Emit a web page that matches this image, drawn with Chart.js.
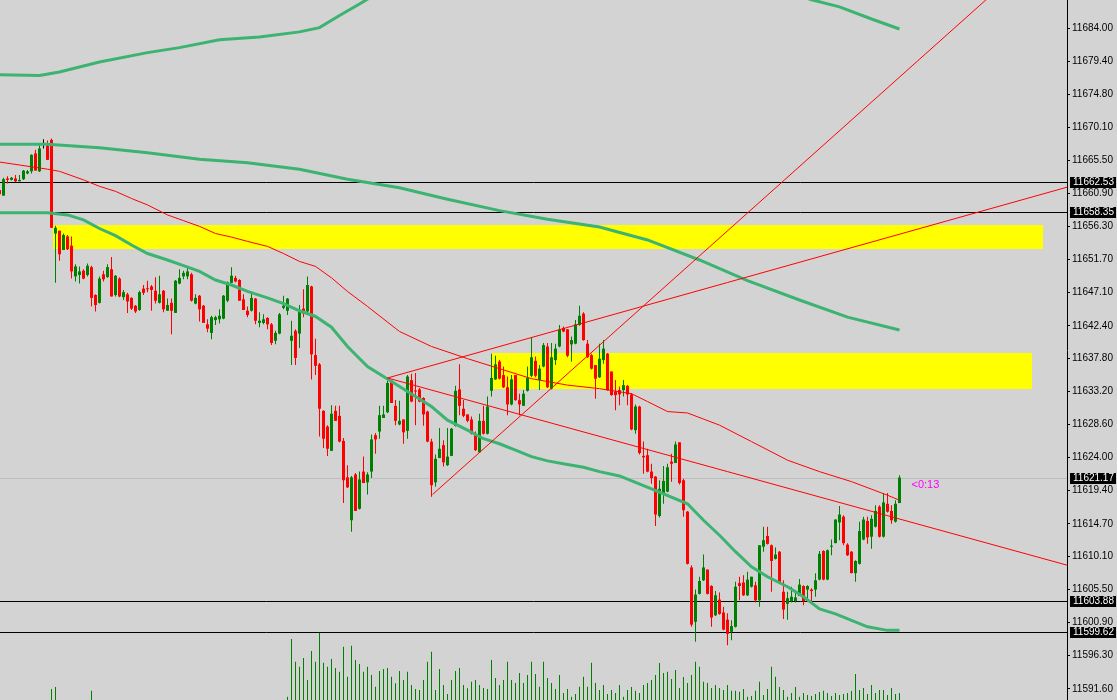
<!DOCTYPE html>
<html>
<head>
<meta charset="utf-8">
<script src="https://cdn.jsdelivr.net/npm/chart.js@4/dist/chart.umd.min.js"></script>
<style>
  html, body { margin: 0; padding: 0; background: #d3d3d3; }
  canvas { display: block; }
</style>
</head>
<body>
<canvas id="grafico" width="1117" height="700"></canvas>
<script>
// candles, index 0 = first bar on screen
const opens = [
  11661.4,11660.6,11663.0,11662.8,11663.0,11662.6,11662.9,11663.7,11664.0,11666.5,
  11664.0,11667.7,11667.6,11668.4,11655.3,11655.7,11653.0,11654.9,11653.6,11649.3,
  11649.5,11650.1,11649.5,11650.6,11646.7,11645.6,11649.6,11649.2,11650.3,11646.7,
  11649.0,11646.4,11646.8,11646.3,11645.2,11644.6,11647.6,11647.6,11647.9,11647.3,
  11645.6,11647.3,11644.5,11645.6,11644.2,11648.3,11649.3,11649.3,11649.6,11645.5,
  11646.6,11645.2,11642.6,11641.4,11643.2,11643.3,11643.4,11645.9,11648.4,11649.1,
  11648.8,11646.1,11644.5,11644.5,11646.2,11642.8,11642.8,11643.5,11642.6,11640.3,
  11641.3,11644.9,11644.5,11640.3,11641.7,11641.3,11644.8,11644.4,11647.9,11638.3,
  11637.0,11630.5,11628.3,11624.9,11630.5,11629.8,11626.3,11621.2,11615.2,11621.6,
  11616.8,11622.0,11620.5,11622.0,11627.1,11627.6,11629.5,11630.3,11634.7,11631.2,
  11628.6,11629.3,11627.7,11634.8,11633.3,11633.5,11632.3,11630.4,11626.2,11620.5,
  11623.9,11625.7,11622.9,11624.2,11628.4,11633.5,11630.8,11630.0,11629.3,11627.1,
  11624.7,11629.1,11627.3,11633.3,11634.9,11637.4,11635.5,11633.8,11631.4,11635.5,
  11632.0,11631.2,11633.3,11635.4,11637.5,11634.8,11636.7,11639.5,11633.6,11637.6,
  11639.5,11642.1,11641.9,11639.8,11639.9,11642.5,11644.1,11639.9,11638.3,11636.9,
  11635.2,11637.6,11638.5,11636.0,11633.2,11633.4,11633.4,11634.0,11632.8,11627.8,
  11631.1,11624.2,11624.3,11622.0,11621.3,11615.8,11618.9,11619.2,11623.4,11623.2,
  11626.1,11620.8,11616.4,11608.6,11601.0,11604.9,11606.8,11608.3,11606.0,11601.9,
  11604.1,11602.3,11601.3,11599.6,11600.3,11606.4,11606.5,11604.7,11605.9,11606.1,
  11604.0,11611.5,11613.0,11611.7,11609.8,11610.8,11605.2,11603.5,11603.9,11603.9,
  11604.6,11606.0,11605.5,11605.5,11605.5,11606.9,11610.9,11606.9,11611.5,11612.0,
  11614.9,11615.7,11611.8,11610.8,11607.8,11609.1,11612.5,11615.1,11612.9,11614.3,
  11617.1,11612.9,11617.5,11616.5,11615.0,11617.6
];
const highs = [
  11661.7,11663.1,11663.3,11663.2,11663.5,11663.5,11664.2,11664.2,11666.4,11667.0,
  11667.7,11668.5,11668.3,11668.6,11656.4,11655.7,11655.3,11655.1,11654.9,11651.0,
  11650.7,11650.3,11651.1,11650.8,11646.8,11649.3,11650.1,11651.0,11652.0,11649.5,
  11649.2,11647.4,11647.0,11646.4,11645.3,11647.3,11648.1,11648.7,11648.1,11649.2,
  11649.4,11647.4,11646.2,11646.2,11648.8,11650.3,11650.1,11650.6,11649.8,11646.8,
  11646.7,11645.3,11643.3,11643.8,11643.8,11644.7,11646.7,11648.6,11650.6,11649.4,
  11648.9,11646.8,11645.1,11647.2,11646.3,11644.3,11644.0,11643.6,11642.8,11641.7,
  11644.2,11646.6,11646.3,11643.1,11641.9,11645.3,11647.5,11649.3,11648.0,11640.6,
  11637.2,11630.6,11628.5,11631.3,11631.2,11631.2,11626.7,11622.9,11621.4,11621.8,
  11622.0,11624.1,11621.9,11627.2,11627.4,11631.2,11631.2,11634.7,11634.8,11632.0,
  11631.9,11629.3,11635.5,11635.7,11635.8,11633.7,11632.4,11630.5,11626.6,11624.4,
  11628.1,11626.4,11628.1,11628.1,11634.0,11637.0,11632.0,11630.0,11629.7,11627.6,
  11630.1,11631.2,11632.5,11638.5,11638.2,11637.6,11636.7,11635.3,11635.5,11635.5,
  11632.9,11633.4,11636.7,11640.8,11638.1,11636.9,11640.0,11640.0,11640.0,11639.9,
  11642.5,11642.3,11641.9,11640.9,11643.2,11645.2,11644.3,11640.4,11638.5,11636.9,
  11639.9,11640.4,11638.6,11636.0,11634.8,11633.9,11634.8,11634.1,11633.0,11631.4,
  11631.2,11626.2,11625.2,11623.1,11621.4,11620.8,11622.8,11623.1,11624.5,11626.2,
  11626.1,11621.0,11616.5,11608.9,11605.5,11607.3,11610.4,11608.3,11606.1,11605.3,
  11605.1,11603.1,11602.2,11601.2,11606.6,11607.3,11607.5,11608.0,11607.3,11606.6,
  11611.7,11614.3,11614.3,11611.8,11611.4,11610.9,11606.8,11605.2,11605.9,11605.4,
  11607.0,11606.1,11606.1,11605.7,11607.8,11610.9,11611.0,11611.1,11612.5,11615.3,
  11617.2,11615.9,11612.0,11610.9,11609.6,11615.0,11615.7,11615.7,11615.9,11617.3,
  11617.3,11619.0,11619.0,11617.3,11618.0,11621.5
];
const lows = [
  11660.6,11660.6,11662.3,11662.7,11662.5,11662.6,11662.8,11663.6,11663.7,11664.1,
  11663.9,11667.2,11665.6,11656.1,11648.4,11651.5,11653.0,11653.0,11649.0,11648.6,
  11648.3,11648.9,11649.3,11645.1,11644.4,11645.5,11648.6,11649.1,11646.5,11646.5,
  11646.4,11646.0,11644.2,11644.6,11644.2,11644.5,11646.7,11647.1,11644.5,11645.5,
  11645.5,11644.3,11644.5,11641.2,11644.2,11648.2,11648.9,11648.9,11645.8,11645.4,
  11643.0,11642.8,11641.5,11640.5,11642.5,11642.7,11643.3,11645.7,11648.4,11648.5,
  11645.9,11644.6,11643.6,11644.4,11642.6,11642.2,11642.6,11641.9,11639.7,11639.8,
  11641.2,11644.7,11643.9,11636.9,11636.9,11639.3,11643.6,11644.3,11634.9,11635.5,
  11626.9,11625.3,11624.2,11624.9,11629.1,11626.1,11617.6,11619.7,11613.6,11616.5,
  11616.7,11620.4,11618.8,11621.1,11624.5,11626.6,11629.5,11630.2,11631.6,11628.5,
  11628.5,11625.9,11626.6,11631.7,11628.5,11631.7,11628.4,11626.1,11618.5,11619.9,
  11623.9,11622.7,11622.8,11624.2,11628.3,11629.9,11629.6,11628.9,11627.2,11624.9,
  11624.6,11627.2,11627.2,11632.5,11634.8,11634.9,11633.7,11629.9,11631.3,11631.9,
  11629.9,11631.2,11633.2,11635.2,11635.2,11633.4,11636.6,11633.7,11633.5,11636.9,
  11639.4,11641.5,11638.0,11637.4,11639.8,11642.4,11640.3,11637.9,11636.3,11632.2,
  11635.1,11637.1,11633.3,11632.6,11630.6,11631.3,11632.5,11631.3,11627.8,11627.3,
  11624.4,11621.7,11621.9,11620.3,11614.4,11615.6,11617.5,11619.1,11620.6,11623.2,
  11620.2,11615.7,11609.0,11600.3,11598.2,11604.8,11606.7,11604.8,11600.3,11601.8,
  11602.0,11599.8,11597.7,11598.4,11600.2,11604.0,11604.6,11604.6,11605.8,11603.7,
  11603.1,11610.8,11611.8,11605.2,11609.7,11606.4,11601.4,11601.3,11603.7,11603.7,
  11604.6,11603.3,11603.8,11603.8,11604.5,11606.8,11606.8,11606.8,11610.3,11612.0,
  11612.4,11611.7,11610.2,11607.8,11606.6,11609.0,11612.4,11611.9,11611.2,11614.2,
  11612.8,11612.8,11616.3,11614.7,11614.9,11617.6
];
const closes = [
  11660.8,11662.9,11662.8,11663.1,11662.6,11662.8,11664.1,11664.0,11666.3,11664.1,
  11667.2,11667.7,11665.6,11656.1,11656.1,11652.4,11655.1,11653.1,11650.0,11650.7,
  11650.0,11649.0,11650.8,11646.3,11645.3,11649.0,11648.9,11650.6,11646.5,11649.4,
  11646.5,11647.1,11645.8,11644.8,11644.4,11647.1,11647.0,11647.5,11647.4,11645.9,
  11646.8,11644.7,11645.3,11644.5,11648.7,11649.1,11649.8,11650.0,11645.9,11646.3,
  11644.7,11642.8,11642.0,11643.6,11643.6,11643.8,11646.6,11648.5,11649.4,11648.6,
  11645.9,11644.6,11643.9,11646.3,11643.1,11643.1,11643.3,11642.6,11640.0,11641.4,
  11644.0,11645.2,11646.2,11641.0,11637.9,11644.6,11644.1,11648.1,11638.4,11636.8,
  11630.8,11626.6,11625.2,11630.1,11629.1,11626.2,11620.8,11619.8,11621.2,11616.5,
  11620.9,11620.4,11621.6,11626.5,11626.5,11629.9,11630.0,11634.4,11631.6,11629.1,
  11629.1,11627.5,11635.3,11631.8,11633.2,11631.8,11630.0,11626.2,11620.1,11623.8,
  11625.2,11623.3,11624.1,11628.0,11633.3,11631.2,11629.8,11629.1,11627.3,11625.0,
  11629.1,11627.3,11631.1,11635.1,11637.0,11635.0,11633.8,11631.4,11634.9,11632.0,
  11631.4,11632.9,11635.1,11638.0,11635.4,11636.4,11639.7,11633.8,11638.0,11639.2,
  11641.9,11641.6,11638.2,11640.4,11642.6,11643.8,11640.4,11638.0,11636.4,11635.0,
  11637.8,11639.2,11633.4,11632.7,11632.7,11632.8,11634.1,11632.8,11627.9,11631.1,
  11624.6,11624.0,11622.0,11621.1,11616.0,11619.6,11620.7,11622.6,11623.1,11625.8,
  11620.4,11616.6,11609.1,11600.6,11604.8,11606.7,11608.6,11604.9,11601.6,11604.7,
  11602.1,11599.9,11599.3,11600.4,11605.9,11606.0,11604.7,11606.9,11607.3,11604.0,
  11611.7,11612.4,11611.9,11609.5,11610.4,11606.5,11602.7,11604.3,11604.5,11604.4,
  11606.2,11603.9,11606.0,11605.3,11606.8,11610.5,11606.9,11611.0,11611.6,11615.3,
  11616.0,11612.0,11610.3,11607.8,11609.5,11613.7,11615.3,11612.8,11615.4,11616.5,
  11612.9,11617.7,11616.4,11615.2,11617.5,11621.17
];
// tick volume (null = bar too small to show)
const volumes = [
  null,null,null,null,null,null,null,null,null,null,
  null,null,null,110,130,null,null,null,null,null,
  null,null,null,93,null,null,null,null,null,null,
  null,null,null,null,null,null,null,null,null,null,
  null,null,null,null,null,null,null,null,null,null,
  null,null,null,null,null,null,null,null,null,null,
  null,null,null,null,null,null,null,null,null,null,
  null,null,33,610,383,333,420,200,490,383,
  673,373,333,410,320,283,533,233,543,400,
  360,283,333,250,133,290,310,320,233,167,
  290,200,283,150,110,100,200,383,483,100,
  310,150,60,200,290,320,150,117,183,200,
  150,120,110,400,220,150,200,383,200,170,
  270,170,250,383,260,133,383,220,170,110,
  250,70,110,33,60,133,233,133,373,170,
  100,150,60,100,70,150,33,100,130,93,
  70,150,170,200,250,370,270,283,210,300,
  120,230,170,250,383,333,183,170,120,150,
  120,100,150,93,93,83,110,33,40,93,
  183,50,110,333,233,130,100,33,70,130,
  33,70,50,40,60,80,93,70,40,70,
  50,60,70,90,260,100,120,60,150,70,
  100,100,50,120,60,70
];

// moving averages (bar index / price)
const maFastIdx = [0,12,17,21,25,29,33,37,42,46,50,54,58,62,67,71,75,79,83,87,92,96,100,104,108,112,117,121,125,129,133,137,142,146,150,155,163,172,176,180,184,188,192,197,201,205,209,213,217,222,225];
const maFastVal = [11658.2,11658.2,11657.9,11657.2,11656.0,11655.0,11653.7,11652.5,11651.6,11650.8,11650.0,11648.8,11648.1,11647.2,11646.3,11645.5,11644.5,11643.7,11642.2,11639.5,11636.7,11635.3,11633.9,11632.5,11631.1,11629.2,11627.8,11626.6,11625.9,11625.0,11624.1,11623.5,11623.0,11622.6,11622.0,11621.4,11619.6,11617.5,11615.2,11613.1,11610.8,11608.7,11607.3,11605.9,11604.5,11602.8,11602.1,11601.2,11600.3,11599.8,11599.8];
const maRedIdx = [0,12,15,21,25,29,33,37,42,46,50,54,58,62,67,71,75,79,83,87,92,100,108,117,125,133,142,150,158,162,167,172,180,188,197,205,213,222,225];
const maRedVal = [11665.3,11664.3,11664.0,11662.8,11661.9,11661.2,11660.2,11659.3,11657.9,11657.1,11656.3,11655.3,11654.8,11654.2,11653.5,11652.5,11651.4,11650.7,11649.1,11647.2,11645.1,11641.6,11639.5,11637.8,11636.4,11635.0,11634.1,11633.6,11632.9,11631.8,11630.4,11630.2,11628.5,11626.2,11623.6,11622.0,11620.6,11618.7,11618.0];
const maMidIdx = [0,12,25,37,50,62,75,87,100,112,125,137,150,162,175,187,200,212,225];
const maMidVal = [11667.8,11667.8,11667.3,11666.6,11665.7,11665.2,11664.3,11662.9,11661.7,11660.1,11658.5,11657.3,11656.2,11654.4,11651.6,11648.7,11646.0,11643.6,11641.8];
const maSlowIdx = [0,10,15,25,37,45,55,65,75,80,85,90,100,125,150,175,195,203,210,218,225];
const maSlowVal = [11677.5,11677.4,11677.9,11679.3,11680.6,11681.3,11682.4,11682.8,11683.5,11684.1,11685.8,11687.4,11690.8,11695.0,11695.0,11693.6,11689.4,11688.0,11687.0,11685.3,11683.9];

// trend lines
const trendUpIdx = [97, 267];
const trendUpVal = [11635.1, 11661.8];
const trendDownIdx = [97, 267];
const trendDownVal = [11635.1, 11608.9];
const trendSteepIdx = [108.25, 250.25];
const trendSteepVal = [11618.8, 11689.8];

// rectangles: from index, to index, top, bottom
const zoneFrom = [13.5, 123];
const zoneTo = [261, 258];
const zoneTop = [11656.5, 11638.6];
const zoneBottom = [11653.1, 11633.5];

const levels = [11662.53, 11658.35, 11603.88, 11599.62];
const bid = 11621.17;
const timer = '<0:13';
const priceTicks = [11684.00,11679.40,11674.80,11670.10,11665.50,11660.90,11656.30,11651.70,11647.10,11642.40,
  11637.80,11633.20,11628.60,11624.00,11619.40,11614.70,11610.10,11605.50,11600.90,11596.30,11591.60];

const VERDE = '#008000', VERMELHO = '#ff0000', MA_VERDE = '#3cb371';

function corCandle(i) {
  if (closes[i] > opens[i]) return VERDE;
  if (closes[i] < opens[i]) return VERMELHO;
  return '#000000';
}
const cores = opens.map((_, i) => corCandle(i));
const pares = (xs, ys) => xs.map((x, i) => ({ x: x, y: ys[i] }));

function linha(xs, ys, cor, largura, ordem) {
  return {
    type: 'line', data: pares(xs, ys), borderColor: cor, borderWidth: largura,
    pointRadius: 0, tension: 0, fill: false, order: ordem, yAxisID: 'y'
  };
}

const extras = {
  id: 'extras',
  beforeDatasetsDraw(chart) {
    const { ctx, chartArea: a, scales: { x, y } } = chart;
    ctx.save();
    ctx.beginPath();
    ctx.rect(a.left, a.top, a.width, a.height);
    ctx.clip();
    ctx.fillStyle = '#ffff00';
    zoneFrom.forEach((_, k) => {
      const x0 = x.getPixelForValue(zoneFrom[k]), x1 = x.getPixelForValue(zoneTo[k]);
      const y0 = y.getPixelForValue(zoneTop[k]), y1 = y.getPixelForValue(zoneBottom[k]);
      ctx.fillRect(Math.round(x0), Math.round(y0), Math.round(x1 - x0), Math.round(y1 - y0));
    });
    ctx.lineWidth = 1;
    ctx.strokeStyle = '#bdbdbd';
    let py = Math.round(y.getPixelForValue(bid)) + 0.5;
    ctx.beginPath(); ctx.moveTo(a.left, py); ctx.lineTo(a.right, py); ctx.stroke();
    ctx.strokeStyle = '#000000';
    levels.forEach(v => {
      const p = Math.round(y.getPixelForValue(v)) + 0.5;
      ctx.beginPath(); ctx.moveTo(a.left, p); ctx.lineTo(a.right, p); ctx.stroke();
    });
    ctx.restore();
  },
  afterDraw(chart) {
    const { ctx, chartArea: a, scales: { x, y } } = chart;
    ctx.save();
    ctx.font = '10px "Liberation Sans"';
    ctx.textBaseline = 'middle';
    [...levels, bid].forEach(v => {
      const py = Math.round(y.getPixelForValue(v));
      ctx.fillStyle = '#000000';
      ctx.fillRect(a.right + 3, py - 5, 46, 11);
      ctx.fillStyle = '#ffffff';
      ctx.fillText(v.toFixed(2), a.right + 6, py + 0.5);
    });
    // contador do candle
    ctx.font = '11px "Liberation Sans"';
    ctx.fillStyle = '#ff00ff';
    ctx.fillText(timer, x.getPixelForValue(closes.length - 1) + 12, y.getPixelForValue(bid) + 7);
    ctx.restore();
  }
};

// only bars that have a volume
const volData = [];
volumes.forEach((v, i) => { if (v !== null) volData.push({ x: i, y: v }); });

new Chart(document.getElementById('grafico'), {
  type: 'bar',
  data: {
    datasets: [
      { type: 'bar', yAxisID: 'yv', data: volData,
        backgroundColor: VERDE, barThickness: 1, inflateAmount: 0, grouped: false, order: 10 },
      { type: 'bar', yAxisID: 'y', data: lows.map((l, i) => ({ x: i, y: [l, highs[i]] })),
        backgroundColor: cores, barThickness: 1, inflateAmount: 0, grouped: false, order: 9 },
      { type: 'bar', yAxisID: 'y', data: opens.map((o, i) => ({ x: i, y: [o, closes[i]] })),
        backgroundColor: cores, barThickness: 3, minBarLength: 1, inflateAmount: 0, grouped: false, order: 8 },
      linha(maSlowIdx, maSlowVal, MA_VERDE, 3, 4),
      linha(maMidIdx, maMidVal, MA_VERDE, 3, 3),
      linha(maFastIdx, maFastVal, MA_VERDE, 3, 2),
      linha(maRedIdx, maRedVal, VERMELHO, 1, 1),
      linha(trendUpIdx, trendUpVal, VERMELHO, 1, 0),
      linha(trendDownIdx, trendDownVal, VERMELHO, 1, 0),
      linha(trendSteepIdx, trendSteepVal, VERMELHO, 1, 0)
    ]
  },
  options: {
    responsive: false,
    animation: false,
    layout: { padding: 0 },
    plugins: { legend: { display: false }, tooltip: { enabled: false } },
    scales: {
      x: { type: 'linear', min: 0.125, max: 266.875, offset: false, display: false },
      y: {
        type: 'linear', position: 'right', min: 11590.06, max: 11687.96,
        afterBuildTicks: s => { s.ticks = priceTicks.map(v => ({ value: v })); },
        afterFit: s => { s.width = 50; s.paddingTop = 0; s.paddingBottom = 0; },
        grid: { drawOnChartArea: false, drawTicks: true, tickLength: 3, color: '#000000' },
        border: { display: true, color: '#000000' },
        ticks: {
          autoSkip: false, padding: 2, color: '#000000',
          font: { family: 'Liberation Sans', size: 10 },
          callback: v => Number(v).toFixed(2)
        }
      },
      yv: { type: 'linear', min: 0, max: 7000, display: false }
    }
  },
  plugins: [extras]
});
</script>
</body>
</html>
